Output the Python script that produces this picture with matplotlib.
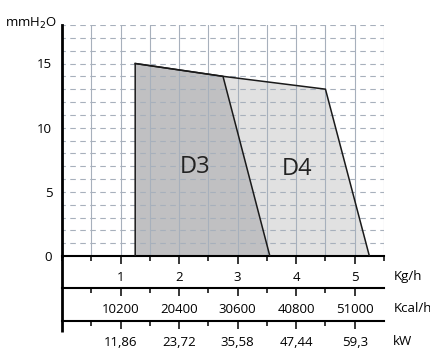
import matplotlib
matplotlib.use("Agg")
import matplotlib.pyplot as plt
from matplotlib.ticker import MultipleLocator

plt.rcParams['font.family'] = ['Open Sans', 'DejaVu Sans']

# data
d3_x = [1.25, 1.25, 2.75, 3.55]
d3_y = [0, 15, 14, 0]
d4_x = [1.25, 1.25, 2.75, 4.5, 5.25]
d4_y = [0, 15, 14, 13, 0]
kgh = [1, 2, 3, 4, 5]
kcal = ['10200', '20400', '30600', '40800', '51000']
kw = ['11,86', '23,72', '35,58', '47,44', '59,3']
yticks = [0, 5, 10, 15]

W, H = 431, 349
fig = plt.figure(figsize=(W / 100, H / 100), dpi=100)
left = 62 / W
width = (384 - 62) / W
ax = fig.add_axes([left, (H - 256) / H, width, 231 / H])
ax.set_xlim(0, 5.5)
ax.set_ylim(0, 18)

grid_c = '#a7b0bc'
ax.fill(d4_x, d4_y, color='#e1e1e1', lw=0, zorder=1)
ax.fill(d3_x, d3_y, color='#c0c0c2', lw=0, zorder=1.5)
for v in [0.5 * i for i in range(1, 12)]:
    ax.axvline(v, color=grid_c, lw=0.8, zorder=2)
for h in range(1, 19):
    ax.axhline(h, color=grid_c, lw=0.8, ls=(2, (5, 4)), zorder=2)

# outlines
ax.plot(d4_x[1:], d4_y[1:], color='#1a1a1a', lw=1.1, zorder=3)
ax.plot(d3_x, d3_y, color='#1a1a1a', lw=1.1, zorder=3)

ax.text(2.27, 6.9, 'D3', fontsize=17, ha='center', va='center', color='#222222', zorder=4)
ax.text(4.02, 6.8, 'D4', fontsize=17, ha='center', va='center', color='#222222', zorder=4)

for s in ['top', 'right']:
    ax.spines[s].set_visible(False)
ax.spines['left'].set_linewidth(2.0)
ax.spines['bottom'].set_linewidth(1.5)
ax.plot([0, 0], [0, -5.9], color='black', lw=2.0, clip_on=False, zorder=5,
        solid_capstyle='butt')

ax.set_yticks(yticks)
ax.set_yticklabels([str(t) for t in yticks], fontsize=9.5)
ax.tick_params(axis='y', length=0, pad=7)
ax.text(-0.08, 18.1, 'mmH$_2$O', fontsize=9.5, ha='right', va='center')

ax.set_xticks(kgh)
ax.set_xticklabels([str(k) for k in kgh], fontsize=9.5)
ax.xaxis.set_minor_locator(MultipleLocator(0.5))
ax.tick_params(axis='x', which='major', direction='out', length=6, width=1.1, pad=5)
ax.tick_params(axis='x', which='minor', direction='out', length=3.6, width=1.1)

ax.text(5.66, -1.56, 'Kg/h', fontsize=9.5, ha='left', va='center', clip_on=False)
ax.text(5.66, -4.06, 'Kcal/h', fontsize=9.5, ha='left', va='center', clip_on=False)
ax.text(5.66, -6.64, 'kW', fontsize=9.5, ha='left', va='center', clip_on=False)

for ypix, labels in [(287.7, kcal), (320.7, kw)]:
    a = fig.add_axes([left, (H - ypix) / H, width, 0.001])
    a.set_xlim(0, 5.5)
    a.set_yticks([])
    for s in ['top', 'right', 'left']:
        a.spines[s].set_visible(False)
    a.spines['bottom'].set_linewidth(1.5)
    a.set_facecolor('none')
    a.set_xticks(kgh)
    a.set_xticklabels(labels, fontsize=9.5)
    a.set_xticks([0.5 + i for i in range(5)], minor=True)
    a.tick_params(axis='x', which='major', direction='out', length=6, width=1.1, pad=5)
    a.tick_params(axis='x', which='minor', direction='out', length=3.6, width=1.1)

fig.savefig('out.png', dpi=100)
